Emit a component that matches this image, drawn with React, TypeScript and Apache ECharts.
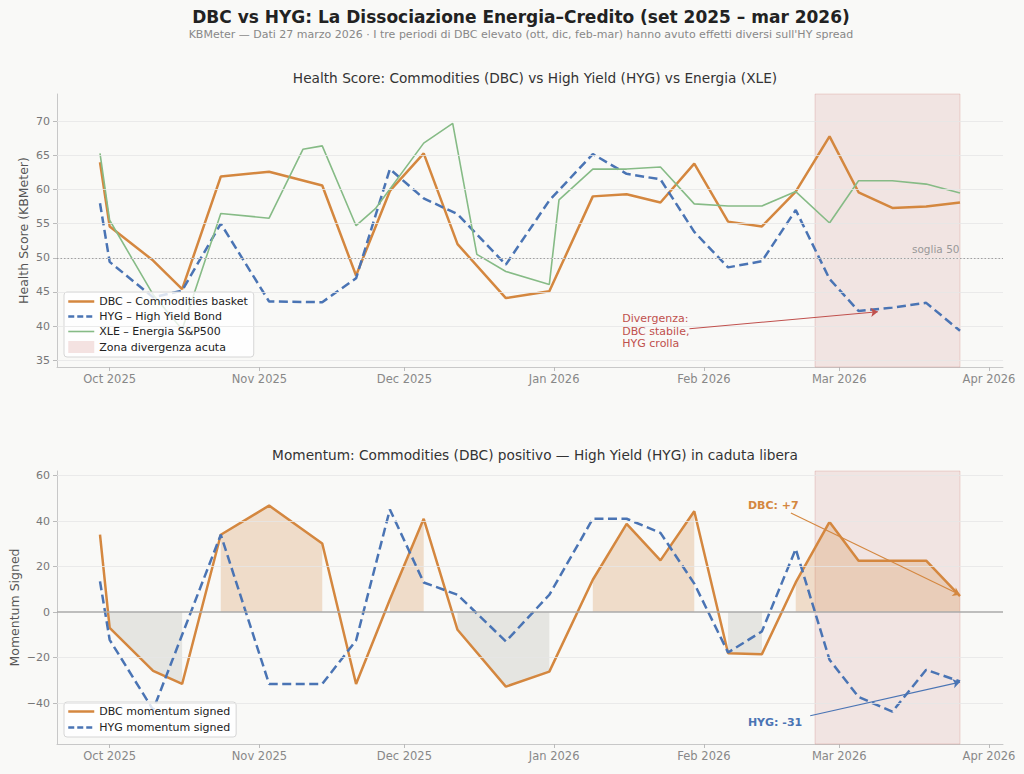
import React, { useEffect, useRef } from 'react';
import * as echarts from 'echarts';

// ---- data ----
const dates = ['2025-09-29','2025-10-01','2025-10-10','2025-10-16','2025-10-24','2025-11-03','2025-11-14','2025-11-21','2025-11-28','2025-12-05','2025-12-12','2025-12-22','2025-12-31','2026-01-09','2026-01-16','2026-01-23','2026-01-30','2026-02-06','2026-02-13','2026-02-20','2026-02-27','2026-03-05','2026-03-12','2026-03-19','2026-03-26'];
const dbcHealth = [64.0, 54.6, 49.6, 45.4, 61.9, 62.6, 60.6, 47.4, 59.8, 65.3, 52.0, 44.1, 45.1, 59.0, 59.3, 58.1, 63.8, 55.3, 54.6, 59.7, 67.8, 59.6, 57.3, 57.5, 58.1];
const hygHealth = [58.0, 49.4, 44.2, 45.2, 55.0, 43.6, 43.5, 47.0, 63.0, 58.7, 56.4, 49.0, 58.4, 65.2, 62.3, 61.5, 53.8, 48.6, 49.5, 57.0, 46.9, 42.2, 42.7, 43.4, 39.3];
const xleDates = ['2025-09-29','2025-10-01','2025-10-10','2025-10-16','2025-10-24','2025-11-03','2025-11-10','2025-11-14','2025-11-21','2025-11-25','2025-12-05','2025-12-11','2025-12-16','2025-12-22','2025-12-31','2026-01-02','2026-01-09','2026-01-16','2026-01-23','2026-01-30','2026-02-06','2026-02-13','2026-02-20','2026-02-27','2026-03-05','2026-03-12','2026-03-19','2026-03-26'];
const xleHealth = [65.3, 55.5, 44.6, 39.5, 56.5, 55.8, 65.9, 66.4, 54.7, 57.2, 66.8, 69.7, 50.5, 48.0, 46.1, 58.5, 63.0, 63.0, 63.3, 57.9, 57.6, 57.6, 59.7, 55.1, 61.3, 61.3, 60.8, 59.5];
const dbcMomentum = [34.0, -7.0, -25.9, -31.6, 34.0, 46.8, 30.1, -31.6, 5.5, 41.0, -7.8, -32.8, -26.2, 14.2, 38.8, 22.7, 44.3, -18.1, -18.5, 13.0, 39.6, 22.6, 22.6, 22.6, 7.0];
const hygMomentum = [13.5, -12.2, -43.0, -10.0, 34.0, -31.6, -31.6, -12.5, 45.1, 13.0, 7.6, -12.9, 7.6, 41.0, 41.0, 34.8, 12.5, -17.8, -8.5, 27.7, -21.0, -37.3, -43.8, -25.4, -30.5];
const monthTicks = ['2025-10-01','2025-11-01','2025-12-01','2026-01-01','2026-02-01','2026-03-01','2026-04-01'];
const monthLabels = ['Oct 2025','Nov 2025','Dec 2025','Jan 2026','Feb 2026','Mar 2026','Apr 2026'];
const healthTicks = [35, 40, 45, 50, 55, 60, 65, 70];
const momentumTicks = [-40, -20, 0, 20, 40, 60];
const zoneStart = '2026-02-24';
const zoneEnd = '2026-03-26';
const threshold = 50;

const ts = (s: string) => {
  const [y, m, d] = s.split('-').map(Number);
  return Date.UTC(y, m - 1, d);
};
const pairs = (ds: string[], vs: number[]) => ds.map((d, i) => [ts(d), vs[i]]);
const DAY = 86400000;

const C_DBC = '#d4873f';
const C_HYG = '#4a74b4';
const C_XLE = '#86bb86';
const C_RED = '#c0504d';
const FONT = 'DejaVu Sans';
const DASH = [9, 4.5];

export default function App() {
  const ref = useRef<HTMLDivElement>(null);
  useEffect(() => {
    if (!ref.current) return;
    const chart = echarts.init(ref.current, undefined, { renderer: 'svg' });
    const t0 = ts(dates[0]);
    const t1 = ts(dates[dates.length - 1]);
    const span = t1 - t0;
    const xMin = t0 - 0.05 * span;
    const xMax = t1 + 0.05 * span;
    const tickVals = monthTicks.map(ts);
    const fmtMonth = (v: number) => {
      const i = tickVals.findIndex((t) => Math.abs(t - v) < DAY / 2);
      return i >= 0 ? monthLabels[i] : '';
    };
    const fmtNum = (v: number) => (v < 0 ? '\u2212' + Math.abs(v) : String(v));

    const xAxisBase = (gridIndex: number) => ({
      type: 'value',
      gridIndex,
      min: xMin,
      max: xMax,
      axisLine: { show: true, onZero: false, lineStyle: { color: '#c8c8c8', width: 1 } },
      axisTick: { show: true, customValues: tickVals, length: 4, lineStyle: { color: '#bbb' } },
      axisLabel: { customValues: tickVals, formatter: fmtMonth, color: '#888', fontSize: 11.5, fontFamily: FONT, margin: 6 },
      splitLine: { show: false },
    });
    const yAxisBase = (gridIndex: number, min: number, max: number, ticks: number[], name: string, gap: number) => ({
      type: 'value',
      gridIndex,
      min,
      max,
      name,
      nameLocation: 'middle',
      nameGap: gap,
      nameMoveOverlap: false,
      nameTextStyle: { color: '#555', fontSize: 12.5, fontFamily: FONT },
      axisLine: { show: true, onZero: false, lineStyle: { color: '#c8c8c8', width: 1 } },
      axisTick: { show: true, customValues: ticks, length: 4, lineStyle: { color: '#bbb' } },
      axisLabel: { customValues: ticks, formatter: fmtNum, color: '#777', fontSize: 11, fontFamily: FONT, margin: 7 },
      splitLine: { show: false },
    });

    const gridLines = (ticks: number[]) =>
      ticks.map((v) => ({ yAxis: v, lineStyle: { color: '#e6e6e6', width: 0.8, type: 'solid' } }));

    const zoneArea = {
      silent: true,
      itemStyle: { color: 'rgba(192,80,77,0.12)', borderColor: 'rgba(192,80,77,0.2)', borderWidth: 1 },
      data: [[{ xAxis: ts(zoneStart) }, { xAxis: ts(zoneEnd) }]],
    };

    const fillData = (pos: boolean) =>
      dates.map((d, i) => {
        const v = dbcMomentum[i];
        return [ts(d), (pos ? v > 0 : v < 0) ? v : '-'];
      });

    const arrow = (from: [string, number], to: [string, number], color: string) => ({
      silent: true,
      symbol: ['none', 'arrow'],
      symbolSize: 7,
      label: { show: false },
      lineStyle: { color, width: 1.1, type: 'solid' },
      data: [[{ coord: [ts(from[0]), from[1]] }, { coord: [ts(to[0]), to[1]] }]],
    });
    const note = (at: [string, number], text: string, color: string, bold: boolean, extra: any = {}) => ({
      silent: true,
      symbol: 'rect',
      symbolSize: 1,
      itemStyle: { color: 'rgba(0,0,0,0)' },
      data: [
        {
          coord: [ts(at[0]), at[1]],
          label: {
            show: true,
            formatter: text,
            position: 'right',
            distance: 0,
            color,
            fontSize: 11,
            lineHeight: 12.5,
            fontWeight: bold ? 'bold' : 'normal',
            fontFamily: FONT,
            ...extra,
          },
        },
      ],
    });

    const lineSeries = (name: string, data: any, color: string, width: number, dashed: boolean, xi: number, extra: any = {}) => ({
      type: 'line',
      name,
      xAxisIndex: xi,
      yAxisIndex: xi,
      data,
      symbol: 'none',
      showSymbol: false,
      z: 3,
      color,
      lineStyle: { color, width, type: dashed ? DASH : 'solid' },
      itemStyle: { color },
      emphasis: { disabled: true },
      ...extra,
    });

    const lineIcon = (name: string, color: string, width: number, dashed: boolean) => ({
      name,
      itemStyle: { opacity: 0, color: 'rgba(0,0,0,0)', borderWidth: 0 },
      lineStyle: { color, width, type: dashed ? [6, 3] : 'solid', opacity: 1 },
    });

    const legendBase = {
      left: 64, orient: 'vertical', itemWidth: 26, itemHeight: 12, padding: [4, 6, 4, 3],
      backgroundColor: 'rgba(255,255,255,0.8)', borderColor: '#d6d6d6', borderWidth: 1, borderRadius: 3,
      textStyle: { fontSize: 11, color: '#222', fontFamily: FONT },
    };

    const option: any = {
      animation: false,
      backgroundColor: '#f9f9f7',
      textStyle: { fontFamily: FONT },
      title: [
        { text: 'DBC vs HYG: La Dissociazione Energia\u2013Credito (set 2025 \u2013 mar 2026)', left: 516, textAlign: 'center', top: 3, textStyle: { fontSize: 17, fontWeight: 'bold', color: '#222', fontFamily: FONT } },
        { text: "KBMeter \u2014 Dati 27 marzo 2026 \u00b7 I tre periodi di DBC elevato (ott, dic, feb-mar) hanno avuto effetti diversi sull'HY spread", left: 516, textAlign: 'center', top: 24, textStyle: { fontSize: 11, fontWeight: 'normal', color: '#888', fontFamily: FONT } },
        { text: 'Health Score: Commodities (DBC) vs High Yield (HYG) vs Energia (XLE)', left: 530, textAlign: 'center', top: 66, textStyle: { fontSize: 13.7, fontWeight: 'normal', color: '#333', fontFamily: FONT } },
        { text: 'Momentum: Commodities (DBC) positivo \u2014 High Yield (HYG) in caduta libera', left: 530, textAlign: 'center', top: 443, textStyle: { fontSize: 13.7, fontWeight: 'normal', color: '#333', fontFamily: FONT } },
      ],
      legend: [
        {
          ...legendBase, top: 292, itemGap: 4,
          data: [
            lineIcon('DBC \u2013 Commodities basket', C_DBC, 2.5, false),
            lineIcon('HYG \u2013 High Yield Bond', C_HYG, 2.5, true),
            lineIcon('XLE \u2013 Energia S&P500', C_XLE, 1.6, false),
            { name: 'Zona divergenza acuta', icon: 'rect' },
          ],
        },
        {
          ...legendBase, top: 702, itemGap: 5,
          data: [lineIcon('DBC momentum signed', C_DBC, 2.5, false), lineIcon('HYG momentum signed', C_HYG, 2.5, true)],
        },
      ],
      grid: [
        { left: 57, top: 94, width: 946, height: 273, containLabel: false, outerBoundsMode: 'none' },
        { left: 57, top: 471, width: 946, height: 273, containLabel: false, outerBoundsMode: 'none' },
      ],
      xAxis: [xAxisBase(0), xAxisBase(1)],
      yAxis: [
        yAxisBase(0, 34, 74, healthTicks, 'Health Score (KBMeter)', 27),
        yAxisBase(1, -58, 62, momentumTicks, 'Momentum Signed', 36),
      ],
      series: [
        {
          type: 'line', name: 'Zona divergenza acuta', xAxisIndex: 0, yAxisIndex: 0, data: [], z: 1,
          itemStyle: { color: 'rgba(192,80,77,0.16)' }, lineStyle: { width: 0 },
          markArea: zoneArea,
          markLine: {
            silent: true, symbol: 'none', label: { show: false },
            data: [...gridLines(healthTicks), { yAxis: threshold, lineStyle: { color: '#999', width: 0.9, type: [1.5, 2] } }],
          },
        },
        lineSeries('DBC \u2013 Commodities basket', pairs(dates, dbcHealth), C_DBC, 2.5, false, 0, {
          markPoint: note([dates[dates.length - 1], threshold], 'soglia 50', '#999', false, { position: 'left', offset: [0, -9], fontSize: 10.5 }),
        }),
        lineSeries('HYG \u2013 High Yield Bond', pairs(dates, hygHealth), C_HYG, 2.5, true, 0, {
          markLine: arrow(['2026-01-29', 39.6], ['2026-03-09', 42.1], C_RED),
          markPoint: note(['2026-01-15', 39.25], 'Divergenza:\nDBC stabile,\nHYG crolla', C_RED, false),
        }),
        lineSeries('XLE \u2013 Energia S&P500', pairs(xleDates, xleHealth), C_XLE, 1.6, false, 0),

        {
          type: 'line', name: 'zone-momentum', xAxisIndex: 1, yAxisIndex: 1, data: [], z: 1,
          itemStyle: { color: 'rgba(192,80,77,0.16)' }, lineStyle: { width: 0 },
          markArea: zoneArea,
          markLine: {
            silent: true, symbol: 'none', label: { show: false },
            data: gridLines(momentumTicks.filter((v) => v !== 0)),
          },
        },
        {
          type: 'line', name: 'dbc-pos', xAxisIndex: 1, yAxisIndex: 1, data: fillData(true), z: 1,
          symbol: 'none', showSymbol: false, connectNulls: false,
          lineStyle: { width: 0 }, areaStyle: { color: 'rgba(212,135,63,0.36)', origin: 0 }, emphasis: { disabled: true },
        },
        {
          type: 'line', name: 'dbc-neg', xAxisIndex: 1, yAxisIndex: 1, data: fillData(false), z: 1,
          symbol: 'none', showSymbol: false, connectNulls: false,
          lineStyle: { width: 0 }, areaStyle: { color: 'rgba(140,140,130,0.26)', origin: 0 }, emphasis: { disabled: true },
          markLine: {
            silent: true, symbol: 'none', label: { show: false },
            data: [{ yAxis: 0, lineStyle: { color: '#aaa', width: 1.5, type: 'solid' } }],
          },
        },
        lineSeries('DBC momentum signed', pairs(dates, dbcMomentum), C_DBC, 2.5, false, 1, {
          markLine: arrow(['2026-02-19', 43.5], ['2026-03-26', 7.6], C_DBC),
          markPoint: note(['2026-02-10', 46.8], 'DBC: +7', C_DBC, true),
        }),
        lineSeries('HYG momentum signed', pairs(dates, hygMomentum), C_HYG, 2.5, true, 1, {
          markLine: arrow(['2026-02-23', -45.6], ['2026-03-26', -30.8], C_HYG),
          markPoint: note(['2026-02-10', -48.6], 'HYG: -31', C_HYG, true),
        }),
      ],
    };
    chart.setOption(option);
    return () => chart.dispose();
  }, []);
  return <div ref={ref} style={{ position: 'fixed', left: 0, top: 0, width: 1024, height: 774 }} />;
}
